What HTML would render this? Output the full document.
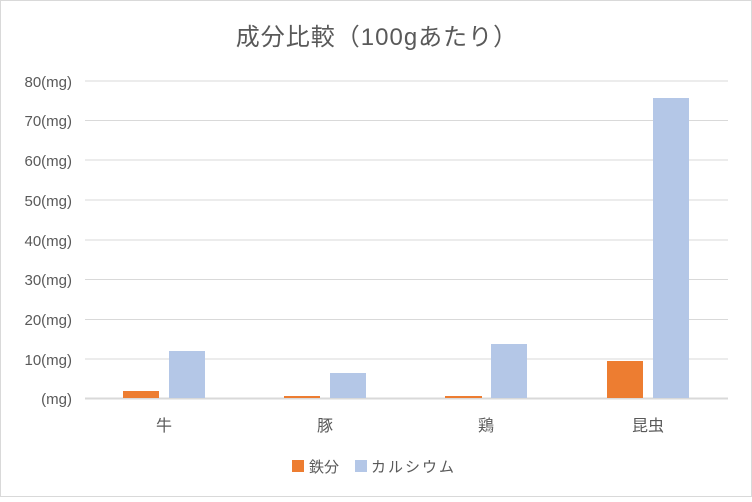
<!DOCTYPE html>
<html><head><meta charset="utf-8"><style>
body{margin:0;background:#fff}
svg text{font-family:"Liberation Sans","Noto Sans CJK JP",sans-serif;fill:#595959}
</style></head><body>
<svg width="752" height="497" xmlns="http://www.w3.org/2000/svg">
<rect x="0.5" y="0.5" width="751" height="496" fill="#fff" stroke="#d9d9d9"/>
<text x="377" y="45" font-size="24" text-anchor="middle" letter-spacing="1">成分比較（100gあたり）</text>
<g stroke="#d9d9d9" stroke-width="1">
<line x1="85" x2="728" y1="81" y2="81"/><line x1="85" x2="728" y1="120.5" y2="120.5"/>
<line x1="85" x2="728" y1="160" y2="160"/><line x1="85" x2="728" y1="200" y2="200"/>
<line x1="85" x2="728" y1="240" y2="240"/><line x1="85" x2="728" y1="279.5" y2="279.5"/>
<line x1="85" x2="728" y1="319.5" y2="319.5"/><line x1="85" x2="728" y1="359" y2="359"/>
</g>
<line x1="85" x2="728" y1="398.5" y2="398.5" stroke="#d9d9d9" stroke-width="2"/>
<g font-size="15" text-anchor="end">
<text x="72" y="87">80(mg)</text><text x="72" y="126">70(mg)</text>
<text x="72" y="166">60(mg)</text><text x="72" y="206">50(mg)</text>
<text x="72" y="246">40(mg)</text><text x="72" y="285">30(mg)</text>
<text x="72" y="325">20(mg)</text><text x="72" y="365">10(mg)</text>
<text x="72" y="404">(mg)</text>
</g>
<g fill="#ed7d31">
<rect x="123" y="391" width="36" height="7"/>
<rect x="284" y="396" width="36" height="2"/>
<rect x="445" y="396" width="37" height="2"/>
<rect x="607" y="361" width="36" height="37"/>
</g>
<g fill="#b4c7e7">
<rect x="169" y="351" width="36" height="47"/>
<rect x="330" y="373" width="36" height="25"/>
<rect x="491" y="344" width="36" height="54"/>
<rect x="653" y="98" width="36" height="300"/>
</g>
<g font-size="16" text-anchor="middle">
<text x="164" y="431">牛</text><text x="325" y="431">豚</text>
<text x="486" y="431">鶏</text><text x="648" y="431">昆虫</text>
</g>
<rect x="292" y="460" width="12" height="12" fill="#ed7d31"/>
<text x="309" y="472" font-size="15">鉄分</text>
<rect x="355" y="460" width="12" height="12" fill="#b4c7e7"/>
<text x="371" y="472" font-size="15" letter-spacing="2">カルシウム</text>
</svg>
</body></html>
